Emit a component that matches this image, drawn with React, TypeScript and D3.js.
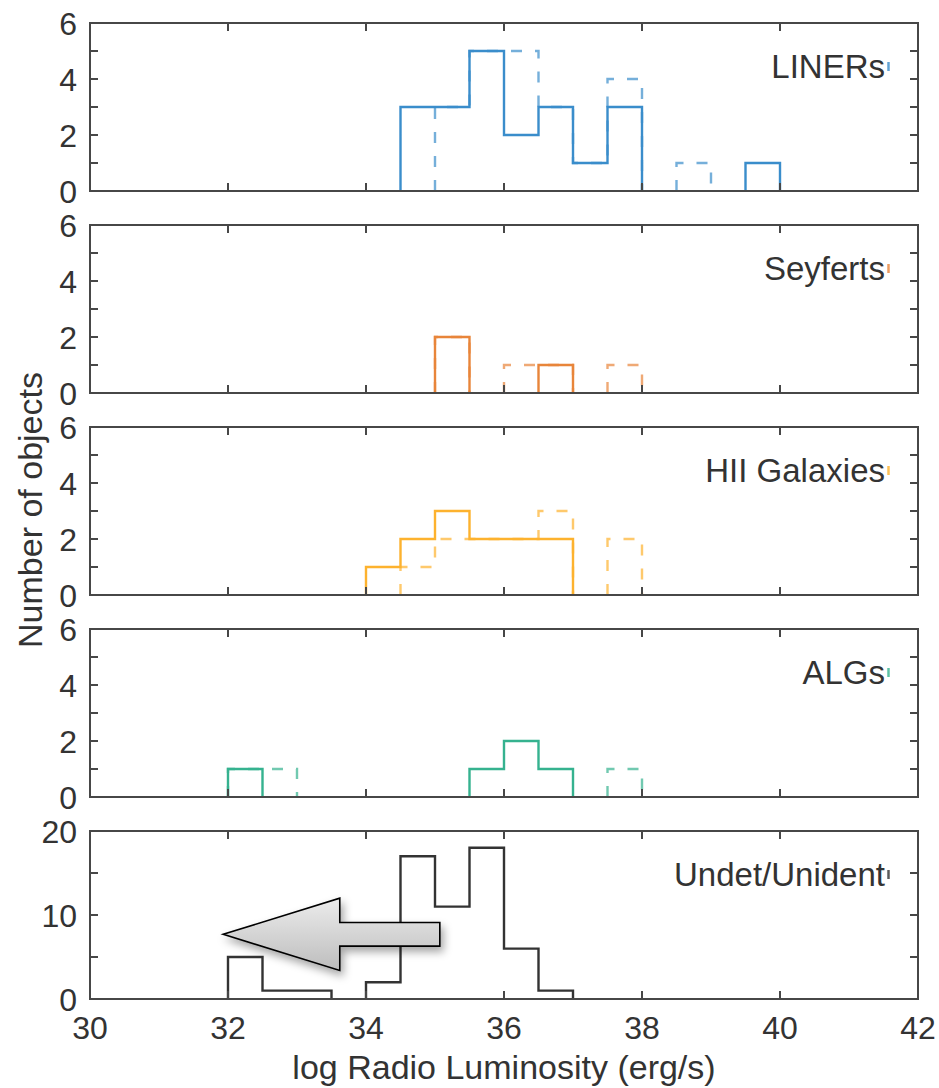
import React from "react";
import * as d3 from "d3";

// Histogram bins (log L, 0.5 dex wide)
const binStarts = [32, 32.5, 33, 33.5, 34, 34.5, 35, 35.5, 36, 36.5, 37, 37.5, 38, 38.5, 39, 39.5];
const binWidth = 0.5;

// Panel definitions
const panelNames = ["LINERs", "Seyferts", "HII Galaxies", "ALGs", "Undet/Unident"];
const panelColors = ["#3a8dcb", "#e8853a", "#fdb22e", "#35b28f", "#333333"];
const panelYMax = [6, 6, 6, 6, 20];
const panelYLabels = [[0, 2, 4, 6], [0, 2, 4, 6], [0, 2, 4, 6], [0, 2, 4, 6], [0, 10, 20]];
const panelYTickStep = [1, 1, 1, 1, 5];

// Counts per bin: solid = detections, dashed = second sample
const linersSolid = [0, 0, 0, 0, 0, 3, 3, 5, 2, 3, 1, 3, 0, 0, 0, 1];
const linersDashed = [0, 0, 0, 0, 0, 0, 3, 5, 5, 3, 1, 4, 0, 1, 0, 0];
const seyfertsSolid = [0, 0, 0, 0, 0, 0, 2, 0, 0, 1, 0, 0, 0, 0, 0, 0];
const seyfertsDashed = [0, 0, 0, 0, 0, 0, 2, 0, 1, 1, 0, 1, 0, 0, 0, 0];
const hiiSolid = [0, 0, 0, 0, 1, 2, 3, 2, 2, 2, 0, 0, 0, 0, 0, 0];
const hiiDashed = [0, 0, 0, 0, 0, 1, 2, 2, 2, 3, 0, 2, 0, 0, 0, 0];
const algsSolid = [1, 0, 0, 0, 0, 0, 0, 1, 2, 1, 0, 0, 0, 0, 0, 0];
const algsDashed = [1, 1, 0, 0, 0, 0, 0, 0, 0, 0, 0, 1, 0, 0, 0, 0];
const undetSolid = [5, 1, 1, 0, 2, 17, 11, 18, 6, 1, 0, 0, 0, 0, 0, 0];
const undetDashed: number[] = [];

const solidSeries = [linersSolid, seyfertsSolid, hiiSolid, algsSolid, undetSolid];
const dashedSeries = [linersDashed, seyfertsDashed, hiiDashed, algsDashed, undetDashed];

// X axis
const xDomain = [30, 42];
const xTicks = [30, 32, 34, 36, 38, 40, 42];

// Arrow annotation in the bottom panel (data units)
const arrowTip = { x: 31.93, y: 7.7 };
const arrowHeadX = 33.62;
const arrowTailX = 35.07;
const arrowHeadHalf = 4.3;
const arrowShaftHalf = 1.4;

const W = 939;
const H = 1088;
const plotLeft = 90;
const plotRight = 918;
const panelTop0 = 23;
const panelStep = 202;
const panelH = 168;
const tickLen = 8;
const font = "'Liberation Sans', Arial, Helvetica, sans-serif";
const textColor = "#333333";
const axisColor = "#474747";
const tickFont = 32;
const labelFont = 33;
const titleFont = 34;

function stairsPath(counts: number[], x: d3.ScaleLinear<number, number>, y: d3.ScaleLinear<number, number>) {
  let d = "";
  let open = false;
  counts.forEach((c, i) => {
    const left = binStarts[i];
    const right = left + binWidth;
    if (c > 0) {
      if (!open) {
        d += `M${x(left)},${y(0)}`;
        open = true;
      }
      d += `L${x(left)},${y(c)}L${x(right)},${y(c)}`;
      const next = counts[i + 1] ?? 0;
      if (next <= 0) {
        d += `L${x(right)},${y(0)}`;
        open = false;
      }
    }
  });
  return d;
}

function Panel({ idx }: { idx: number }) {
  const top = panelTop0 + idx * panelStep;
  const bottom = top + panelH;
  const x = d3.scaleLinear().domain(xDomain).range([plotLeft, plotRight]);
  const y = d3.scaleLinear().domain([0, panelYMax[idx]]).range([bottom, top]);
  const color = panelColors[idx];
  const yMinor = d3.range(panelYTickStep[idx], panelYMax[idx], panelYTickStep[idx]);
  const innerX = xTicks.filter((t) => t > xDomain[0] && t < xDomain[1]);
  const isLast = idx === panelNames.length - 1;

  const labelRight = 885;
  const labelBase = top + 55;

  let arrow: React.ReactNode = null;
  if (isLast) {
    const pts: [number, number][] = [
      [x(arrowTip.x), y(arrowTip.y)],
      [x(arrowHeadX), y(arrowTip.y + arrowHeadHalf)],
      [x(arrowHeadX), y(arrowTip.y + arrowShaftHalf)],
      [x(arrowTailX), y(arrowTip.y + arrowShaftHalf)],
      [x(arrowTailX), y(arrowTip.y - arrowShaftHalf)],
      [x(arrowHeadX), y(arrowTip.y - arrowShaftHalf)],
      [x(arrowHeadX), y(arrowTip.y - arrowHeadHalf)],
    ];
    arrow = (
      <path
        d={"M" + pts.map((p) => p.join(",")).join("L") + "Z"}
        fill="url(#arrowFill)"
        stroke="#000"
        strokeWidth={1.6}
        strokeLinejoin="miter"
        filter="url(#arrowShadow)"
      />
    );
  }

  return (
    <g>
      {/* second sample, dashed */}
      <path
        d={stairsPath(dashedSeries[idx], x, y)}
        fill="none"
        stroke={color}
        strokeWidth={2.4}
        strokeDasharray="11,13"
        opacity={0.7}
      />
      {/* detections, solid */}
      <path d={stairsPath(solidSeries[idx], x, y)} fill="none" stroke={color} strokeWidth={2.4} />

      {/* frame */}
      <rect x={plotLeft} y={top} width={plotRight - plotLeft} height={panelH} fill="none" stroke={axisColor} strokeWidth={2} />
      {innerX.map((t) => (
        <g key={"xt" + t}>
          <line x1={x(t)} x2={x(t)} y1={bottom} y2={bottom - tickLen} stroke={axisColor} strokeWidth={2} />
          <line x1={x(t)} x2={x(t)} y1={top} y2={top + tickLen} stroke={axisColor} strokeWidth={2} />
        </g>
      ))}
      {yMinor.map((t) => (
        <g key={"yt" + t}>
          <line x1={plotLeft} x2={plotLeft + tickLen} y1={y(t)} y2={y(t)} stroke={axisColor} strokeWidth={2} />
          <line x1={plotRight} x2={plotRight - tickLen} y1={y(t)} y2={y(t)} stroke={axisColor} strokeWidth={2} />
        </g>
      ))}
      {panelYLabels[idx].map((t) => (
        <text key={"yl" + t} x={77} y={y(t)} dy="0.36em" textAnchor="end" fontSize={tickFont} fontFamily={font} fill={textColor}>
          {t}
        </text>
      ))}
      {isLast &&
        xTicks.map((t) => (
          <text key={"xl" + t} x={x(t)} y={1039} textAnchor="middle" fontSize={tickFont} fontFamily={font} fill={textColor}>
            {t}
          </text>
        ))}

      {/* legend entry */}
      <text x={labelRight} y={labelBase} textAnchor="end" fontSize={labelFont} fontFamily={font} fill={textColor}>
        {panelNames[idx]}
      </text>
      <line x1={888.5} x2={888.5} y1={labelBase - 16} y2={labelBase - 7} stroke={color} strokeWidth={2.5} opacity={0.8} />

      {arrow}
    </g>
  );
}

export default function App() {
  return (
    <svg
      width={W}
      height={H}
      viewBox={`0 0 ${W} ${H}`}
      style={{ position: "absolute", left: 0, top: 0, background: "#fff" }}
    >
      <defs>
        <linearGradient id="arrowFill" x1="0" y1="0" x2="0" y2="1">
          <stop offset="0" stopColor="#ececec" />
          <stop offset="1" stopColor="#bdbdbd" />
        </linearGradient>
        <filter id="arrowShadow" x="-20%" y="-30%" width="150%" height="180%">
          <feDropShadow dx="3" dy="5" stdDeviation="4" floodColor="#000" floodOpacity="0.35" />
        </filter>
      </defs>
      <rect width={W} height={H} fill="#fff" />
      {panelNames.map((_, i) => (
        <Panel key={i} idx={i} />
      ))}
      <text
        transform="translate(42,510) rotate(-90)"
        textAnchor="middle"
        fontSize={titleFont}
        fontFamily={font}
        fill={textColor}
      >
        Number of objects
      </text>
      <text x={504} y={1079} textAnchor="middle" fontSize={titleFont} fontFamily={font} fill={textColor}>
        log Radio Luminosity (erg/s)
      </text>
    </svg>
  );
}
